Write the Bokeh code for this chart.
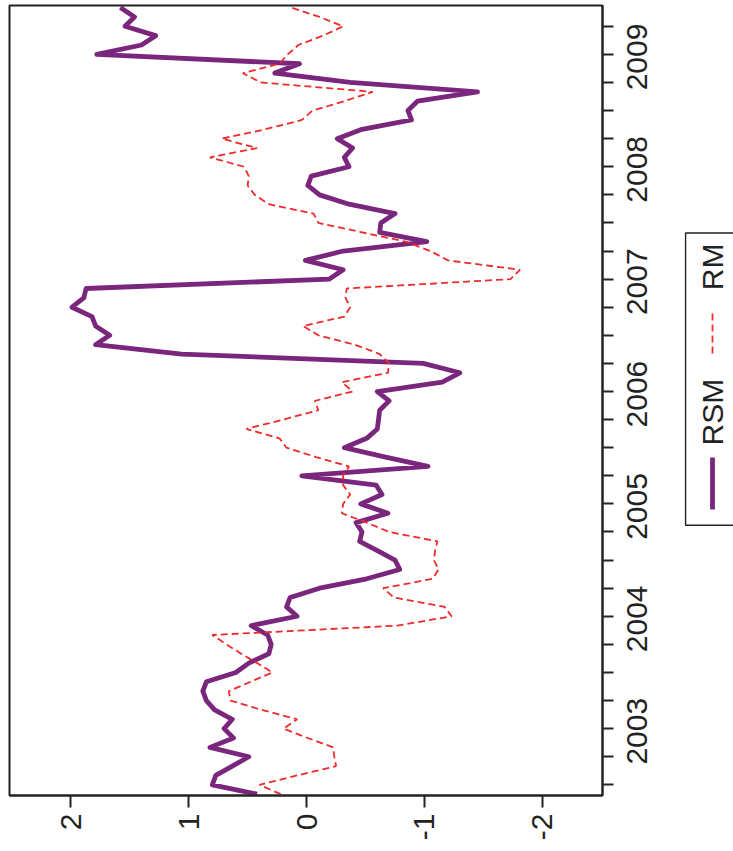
import math
import pandas as pd
from bokeh.plotting import figure
from bokeh.models import Range1d, FixedTicker
from bokeh.layouts import row
from bokeh.embed import file_html
from bokeh.resources import INLINE
from bokeh.core.properties import value

# ---- data (monthly, Dec 2002 .. Dec 2009) ----
start_month = "2002-12"
rsm = [0.42, 0.80, 0.77, 0.63, 0.49, 0.82, 0.62, 0.70, 0.63, 0.78, 0.85, 0.88, 0.85,
       0.60, 0.49, 0.32, 0.30, 0.33, 0.47, 0.08, 0.17, 0.14, -0.11, -0.51, -0.79,
       -0.75, -0.60, -0.45, -0.47, -0.42, -0.69, -0.46, -0.64, -0.59, 0.04, -1.03, -0.67,
       -0.32, -0.51, -0.60, -0.61, -0.62, -0.70, -0.60, -1.15, -1.30, -0.99, 1.06, 1.79,
       1.67, 1.79, 1.82, 1.99, 1.89, 1.87, -0.19, -0.31, 0.01, -0.31, -1.02, -0.62,
       -0.63, -0.75, -0.36, -0.11, -0.01, -0.04, -0.36, -0.32, -0.39, -0.26, -0.47, -0.89,
       -0.86, -0.94, -1.45, -0.37, 0.27, 0.06, 1.78, 1.40, 1.28, 1.54, 1.46, 1.58]
rm = [0.22, 0.40, 0.08, -0.25, -0.235, -0.225, -0.01, 0.195, 0.08, 0.38, 0.645, 0.66, 0.476,
      0.29, 0.42, 0.555, 0.68, 0.80, -0.77, -1.23, -1.17, -0.74, -0.65, -1.07, -1.12,
      -1.08, -1.09, -1.11, -0.70, -0.51, -0.30, -0.31, -0.37, -0.31, -0.31, -0.36, -0.08,
      0.17, 0.23, 0.51, 0.20, -0.10, -0.07, -0.39, -0.30, -0.69, -0.70, -0.62, -0.41,
      -0.10, 0.03, -0.32, -0.37, -0.33, -0.34, -1.73, -1.81, -1.20, -1.05, -0.84, -0.47,
      -0.10, -0.06, 0.32, 0.44, 0.50, 0.49, 0.53, 0.82, 0.42, 0.72, 0.35, 0.04,
      -0.05, -0.32, -0.56, 0.39, 0.54, 0.23, 0.16, 0.07, -0.14, -0.31, -0.11, 0.13]
value_ticks = [2, 1, 0, -1, -2]
value_labels = ["2", "1", "0", "-1", "-2"]
year_labels = [2003, 2004, 2005, 2006, 2007, 2008, 2009]
series_names = ["RSM", "RM"]

periods = pd.period_range(start_month, periods=len(rsm), freq="M")
t = [p.year + (p.month - 1) / 12 for p in periods]

PURPLE = "#7A267C"
RED = "#EE2A2A"
FONT = "Liberation Sans"
FS = "30px"

p = figure(frame_width=593, frame_height=790,
           x_range=Range1d(2.52, -2.51), y_range=Range1d(2002.905, 2009.935),
           y_axis_location="right", toolbar_location=None, output_backend="svg",
           min_border_left=9, min_border_top=5, min_border_bottom=56, min_border_right=82)
p.grid.visible = False
p.outline_line_color = "#222222"
p.outline_line_width = 2
p.background_fill_color = "white"
p.border_fill_color = "white"

p.line(rsm, t, line_color=PURPLE, line_width=4.8, line_join="round")
p.line(rm, t, line_color=RED, line_width=1.8, line_dash="7 4")

xa = p.xaxis[0]
xa.ticker = FixedTicker(ticks=value_ticks)
xa.major_label_overrides = dict(zip(value_ticks, value_labels))
xa.major_label_orientation = math.pi / 2
xa.major_tick_out = 12
xa.major_tick_in = 0
xa.minor_tick_out = 0
xa.major_label_standoff = 6

# year labels are centred on mid-year; the rotated label starts at its anchor,
# so the (invisible) label anchor sits half a label length below mid-year
label_shift = 0.32
ya = p.yaxis[0]
ya.ticker = FixedTicker(ticks=[y + 0.5 - label_shift for y in year_labels],
                        minor_ticks=[2003 + q / 4 for q in range(-1, 28)])
ya.major_label_overrides = {y + 0.5 - label_shift: str(y) for y in year_labels}
ya.major_label_orientation = math.pi / 2
ya.major_tick_out = 0
ya.major_tick_in = 0
ya.major_tick_line_color = None
ya.minor_tick_out = 11
ya.minor_tick_in = 0
ya.major_label_standoff = 24

for ax in (xa, ya):
    ax.axis_line_color = "#222222"
    ax.axis_line_width = 2
    ax.minor_tick_line_color = "#222222"
    ax.minor_tick_line_width = 2
    ax.major_label_text_font = FONT
    ax.major_label_text_font_size = FS
    ax.major_label_text_color = "#222222"
xa.major_tick_line_color = "#222222"
xa.major_tick_line_width = 2

# ---- rotated legend panel ----
H = 851
leg = figure(width=49, height=H, x_range=Range1d(0, 49), y_range=Range1d(0, H),
             x_axis_type=None, y_axis_type=None, toolbar_location=None,
             output_backend="svg", min_border=0)
leg.grid.visible = False
leg.outline_line_color = None
leg.background_fill_color = "white"
leg.border_fill_color = "white"
leg.quad(left=1, right=80, bottom=H - 560, top=H - 245,
         fill_color=None, line_color="#222222", line_width=1.5)
leg.line([28, 28], [H - 543, H - 487], line_color=PURPLE, line_width=4.8)
leg.line([28, 28], [H - 375, H - 328], line_color=RED, line_width=1.8, line_dash="7 4")
leg.text(x=[28, 28], y=[H - 438, H - 281.5], text=series_names, angle=math.pi / 2,
         text_align="center", text_baseline="middle",
         text_font=value(FONT), text_font_size=FS, text_color="#222222")

layout = row(p, leg, spacing=0)
open("out.html", "w").write(file_html(layout, INLINE))
